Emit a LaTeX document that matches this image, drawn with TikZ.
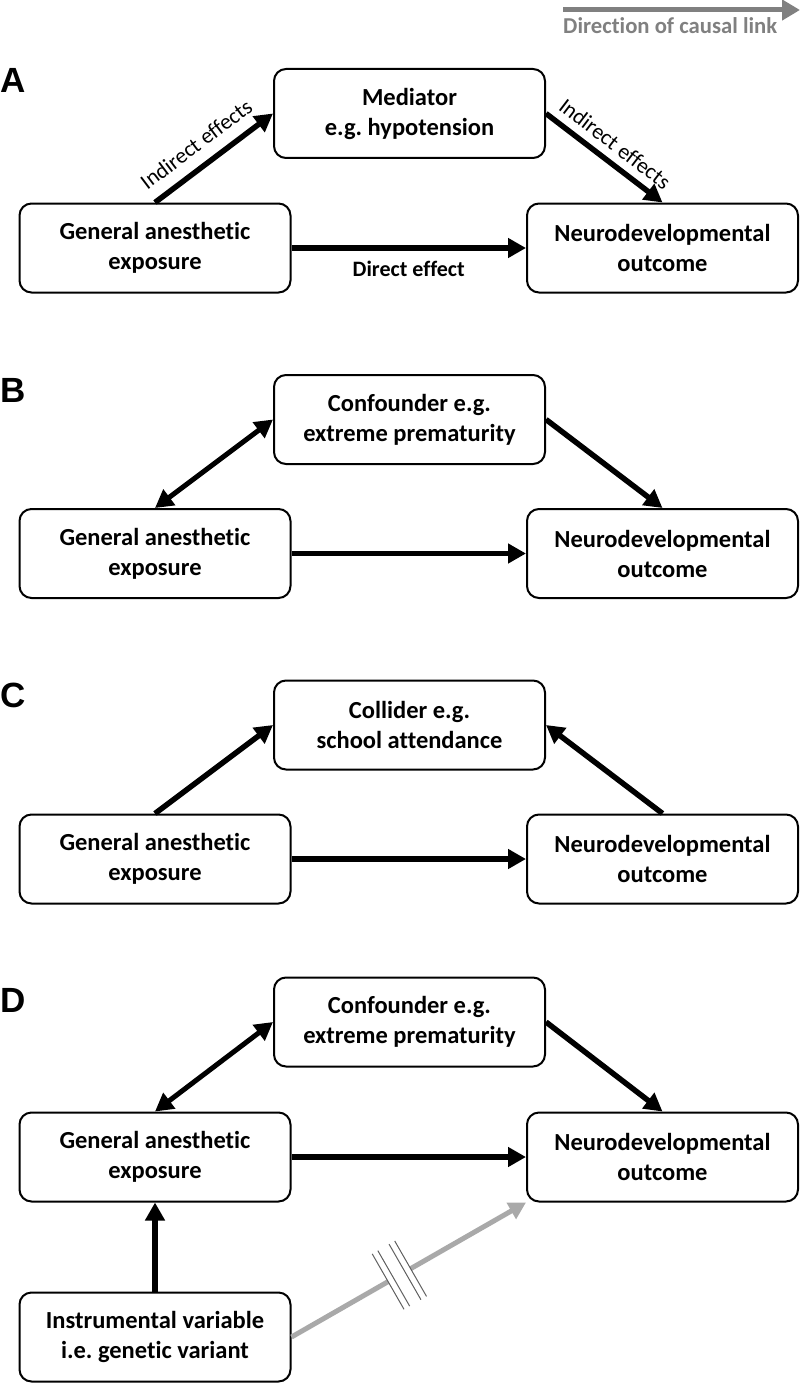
\documentclass[tikz,border=0pt]{standalone}
\usepackage{fontspec}
\setmainfont{Carlito}[Ligatures={NoCommon}]
\newfontfamily\letterfont{Liberation Sans}
\usetikzlibrary{arrows.meta,calc}
\definecolor{legendgray}{HTML}{808080}
\definecolor{ivgray}{HTML}{A9A9A9}
\definecolor{hatchgray}{HTML}{606060}
\frenchspacing
\begin{document}
\begin{tikzpicture}[x=1pt,y=-1pt,
  box/.style={draw, line width=2pt, rounded corners=12pt, minimum width=271pt,
    minimum height=89pt, align=center, inner sep=0pt,
    font=\fontsize{24.5}{30}\selectfont\bfseries},
  panel/.style={anchor=west, inner sep=0pt, font=\letterfont\fontsize{35}{40}\selectfont\bfseries},
  arr/.style={line width=5.5pt, -{Triangle[length=18pt,width=19pt]}},
  darr/.style={line width=5pt, {Triangle[length=18pt,width=19pt]}-{Triangle[length=18pt,width=19pt]}},
  lab/.style={font=\fontsize{22}{26}\selectfont},
  blab/.style={font=\fontsize{22}{26}\selectfont\bfseries},
  hatch/.style={draw=hatchgray, line width=1pt}]
\useasboundingbox (0,0) rectangle (800,1383);

% legend
\coordinate (lgS) at (563,10);
\coordinate (lgE) at (800,10);
\draw[legendgray, line width=5pt, -{Triangle[length=18pt,width=20pt]}] (lgS) -- (lgE);
\node[anchor=west, inner sep=0pt, text=legendgray, font=\fontsize{22.7}{26}\selectfont\bfseries] (lgT) at (563,26) {Direction of causal link};

% ---------- A ----------
\node[panel] (pA) at (0,80) {A};
\node[box] (aM) at (409.5,113.5) {Mediator\\e.g. hypotension};
\node[box] (aL) at (155,248) {General anesthetic\\exposure};
\node[box] (aR) at (662.5,248) {Neurodevelopmental\\outcome};
\draw[arr] (aL.north) -- node[pos=0.46, above=8pt, sloped, lab] {Indirect effects} (aM.west);
\draw[arr] (aM.east) -- node[pos=0.5, above=4pt, sloped, lab] {Indirect effects} (aR.north);
\draw[arr] (aL.east) -- node[midway, below=7pt, blab] {Direct effect} (aR.west);

% ---------- B ----------
\node[panel] (pB) at (0,390) {B};
\node[box] (bT) at (409.5,419.5) {Confounder e.g.\\extreme prematurity};
\node[box] (bL) at (155,553.5) {General anesthetic\\exposure};
\node[box] (bR) at (662.5,553.5) {Neurodevelopmental\\outcome};
\draw[darr] (bL.north) -- (bT.west);
\draw[arr] (bT.east) -- (bR.north);
\draw[arr] (bL.east) -- (bR.west);

% ---------- C ----------
\node[panel] (pC) at (0,695) {C};
\node[box] (cT) at (409.5,725) {Collider e.g.\\school attendance};
\node[box] (cL) at (155,859) {General anesthetic\\exposure};
\node[box] (cR) at (662.5,859) {Neurodevelopmental\\outcome};
\draw[arr] (cL.north) -- (cT.west);
\draw[arr] (cR.north) -- (cT.east);
\draw[arr] (cL.east) -- (cR.west);

% ---------- D ----------
\node[panel] (pD) at (0,1000) {D};
\node[box] (dT) at (409.5,1022) {Confounder e.g.\\extreme prematurity};
\node[box] (dL) at (155,1157) {General anesthetic\\exposure};
\node[box] (dR) at (662.5,1157) {Neurodevelopmental\\outcome};
\node[box] (dI) at (155,1337) {Instrumental variable\\i.e. genetic variant};
\draw[darr] (dL.north) -- (dT.west);
\draw[arr] (dT.east) -- (dR.north);
\draw[arr] (dL.east) -- (dR.west);
\draw[arr] (dI.north) -- (dL.south);

% gray broken arrow
\coordinate (g0) at (dI.east);
\coordinate (g1) at (dR.south west);
\coordinate (h1) at ($(g0)!0.412!(g1)$);
\coordinate (h2) at ($(g0)!0.436!(g1)$);
\coordinate (h3) at ($(g0)!0.484!(g1)$);
\coordinate (h4) at ($(g0)!0.508!(g1)$);
\draw[ivgray, line width=5pt] (g0) -- (h1);
\draw[ivgray, line width=5pt, -{Triangle[length=17pt,width=18pt]}] (h4) -- (g1);
\foreach \h in {h1,h2,h3,h4}{
  \draw[hatch] ($(\h)!32pt!90:(g1)$) -- ($(\h)!32pt!-90:(g1)$);
}
\end{tikzpicture}
\end{document}
